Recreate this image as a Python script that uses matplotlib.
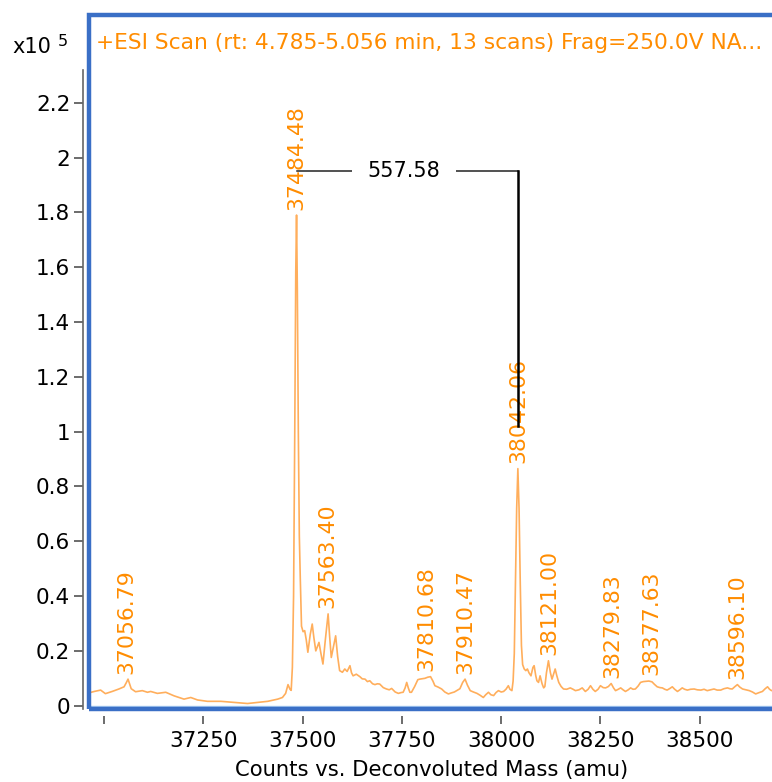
import matplotlib
matplotlib.use("Agg")
import matplotlib.pyplot as plt
from matplotlib.patches import Rectangle
import numpy as np

plt.rcParams['font.family'] = ['DejaVu Sans']

# ---- data (intensity in units of 1e5 counts) ----
mass = [36962, 36975, 36991, 37003, 37020, 37037, 37050, 37056, 37060, 37064,
        37068, 37079, 37096, 37109, 37117, 37134, 37155, 37176, 37201, 37218,
        37235, 37260, 37294, 37328, 37361, 37386, 37412, 37437, 37449, 37457,
        37463, 37468, 37471, 37474, 37477, 37480, 37482.5, 37484.5, 37486.5, 37489,
        37491.5, 37494, 37497, 37501, 37505, 37509, 37513, 37519, 37524, 37528,
        37533, 37537, 37541, 37546, 37551, 37557, 37564, 37568, 37572, 37578,
        37583, 37588, 37593, 37600, 37606, 37612, 37619, 37623, 37627, 37635,
        37644, 37650, 37657, 37663, 37669, 37676, 37682, 37688, 37694, 37703,
        37711, 37718, 37724, 37733, 37741, 37748, 37753, 37758, 37762, 37766,
        37770, 37774, 37782, 37790, 37795, 37808, 37815, 37822, 37828, 37833,
        37841, 37850, 37858, 37867, 37875, 37882, 37888, 37896, 37903, 37909,
        37915, 37922, 37930, 37939, 37947, 37955, 37961, 37968, 37974, 37981,
        37987, 37993, 38000, 38006, 38012, 38018, 38022, 38027, 38030, 38033,
        38036, 38039, 38042, 38045, 38048, 38051, 38054, 38058, 38062, 38066,
        38070, 38075, 38080, 38083, 38087, 38090, 38094, 38098, 38103, 38107,
        38110, 38114, 38119, 38124, 38128, 38132, 38136, 38140, 38145, 38151,
        38157, 38165, 38174, 38181, 38187, 38196, 38204, 38212, 38219, 38225,
        38231, 38237, 38244, 38250, 38257, 38263, 38270, 38277, 38283, 38288,
        38295, 38301, 38307, 38313, 38320, 38326, 38332, 38338, 38345, 38351,
        38358, 38364, 38372, 38380, 38386, 38393, 38400, 38406, 38412, 38418,
        38425, 38431, 38437, 38444, 38450, 38456, 38462, 38469, 38477, 38486,
        38494, 38503, 38511, 38519, 38527, 38536, 38544, 38553, 38561, 38570,
        38576, 38582, 38589, 38595, 38601, 38608, 38616, 38625, 38633, 38641,
        38650, 38658, 38665, 38671, 38676, 38681, 38690, 38700, 38715, 38728]

intensity = [0.047, 0.052, 0.057, 0.044, 0.052, 0.061, 0.069, 0.085, 0.097, 0.080,
             0.062, 0.051, 0.055, 0.049, 0.052, 0.045, 0.049, 0.036, 0.024, 0.030,
             0.021, 0.016, 0.016, 0.012, 0.008, 0.012, 0.016, 0.024, 0.030, 0.045,
             0.077, 0.060, 0.056, 0.14, 0.40, 1.00, 1.58, 1.79, 1.52, 1.00,
             0.62, 0.46, 0.29, 0.27, 0.274, 0.24, 0.195, 0.26, 0.298, 0.25,
             0.20, 0.215, 0.231, 0.19, 0.152, 0.24, 0.335, 0.25, 0.176, 0.22,
             0.255, 0.18, 0.128, 0.122, 0.134, 0.125, 0.146, 0.12, 0.109, 0.115,
             0.106, 0.098, 0.097, 0.088, 0.091, 0.080, 0.077, 0.080, 0.079, 0.066,
             0.061, 0.058, 0.063, 0.050, 0.045, 0.048, 0.049, 0.065, 0.085, 0.065,
             0.049, 0.049, 0.070, 0.095, 0.097, 0.100, 0.104, 0.106, 0.090, 0.073,
             0.068, 0.061, 0.050, 0.043, 0.047, 0.050, 0.055, 0.062, 0.085, 0.097,
             0.075, 0.055, 0.050, 0.045, 0.038, 0.030, 0.040, 0.049, 0.040, 0.037,
             0.048, 0.055, 0.050, 0.052, 0.060, 0.073, 0.060, 0.055, 0.090, 0.19,
             0.45, 0.72, 0.865, 0.72, 0.45, 0.22, 0.15, 0.134, 0.128, 0.134,
             0.120, 0.109, 0.140, 0.146, 0.110, 0.091, 0.085, 0.109, 0.080, 0.065,
             0.070, 0.120, 0.164, 0.120, 0.097, 0.115, 0.134, 0.110, 0.085, 0.070,
             0.061, 0.060, 0.065, 0.060, 0.055, 0.058, 0.065, 0.052, 0.060, 0.073,
             0.060, 0.052, 0.060, 0.073, 0.066, 0.065, 0.070, 0.081, 0.065, 0.055,
             0.060, 0.065, 0.058, 0.052, 0.058, 0.065, 0.060, 0.061, 0.072, 0.085,
             0.088, 0.089, 0.090, 0.087, 0.078, 0.069, 0.066, 0.065, 0.060, 0.057,
             0.063, 0.069, 0.060, 0.052, 0.058, 0.065, 0.060, 0.057, 0.060, 0.061,
             0.058, 0.057, 0.060, 0.055, 0.058, 0.061, 0.057, 0.057, 0.062, 0.065,
             0.062, 0.061, 0.070, 0.077, 0.068, 0.061, 0.058, 0.055, 0.050, 0.043,
             0.048, 0.052, 0.062, 0.069, 0.060, 0.055, 0.058, 0.060, 0.058, 0.060]

peak_masses = [37056.79, 37484.48, 37563.40, 37810.68, 37910.47,
               38042.06, 38121.00, 38279.83, 38377.63, 38596.10]
peak_heights = [0.097, 1.79, 0.335, 0.106, 0.097,
                0.865, 0.164, 0.081, 0.09, 0.077]

delta_pair = (37484.48, 38042.06)
delta_level = 1.95
delta_bottom = 1.02

x_ticks = [37000, 37250, 37500, 37750, 38000, 38250, 38500]
x_ticklabels = ['', '37250', '37500', '37750', '38000', '38250', '38500']
y_ticks = [0, 0.2, 0.4, 0.6, 0.8, 1.0, 1.2, 1.4, 1.6, 1.8, 2.0, 2.2]
y_ticklabels = ['0', '0.2', '0.4', '0.6', '0.8', '1', '1.2', '1.4', '1.6', '1.8', '2', '2.2']

title = "+ESI Scan (rt: 4.785-5.056 min, 13 scans) Frag=250.0V NA..."
xlabel = "Counts vs. Deconvoluted Mass (amu)"

# ---- figure ----
W, H = 772, 782
fig = plt.figure(figsize=(W / 100, H / 100), dpi=100)
left_px, right_px, top_px, bot_px = 89, 790, 15, 709
ax = fig.add_axes([left_px / W, 1 - bot_px / H, (right_px - left_px) / W, (bot_px - top_px) / H])

ORANGE_LINE = '#ff9a33'
ORANGE_TEXT = '#ff8c00'
BLUE = '#3a6fc6'

ax.set_xlim(36961.7, 38727.5)
ax.set_ylim(-0.012, 2.520)

ax.axhline(0, color='#aaccf2', lw=1.0, zorder=1)
ax.plot(mass, intensity, color=ORANGE_LINE, lw=1.2, alpha=0.8, zorder=3,
        solid_joinstyle='round')

for m, h in zip(peak_masses, peak_heights):
    ax.annotate(f"{m:.2f}", xy=(m, h), xytext=(0, 4), textcoords='offset points',
                rotation=90, ha='center', va='bottom', color=ORANGE_TEXT,
                fontsize=15.8, zorder=4)

# mass difference annotation
m1, m2 = delta_pair
ax.plot([m1, m2], [delta_level, delta_level], color='#222222', lw=1.1, zorder=5)
ax.plot([m2, m2], [delta_level, delta_bottom], color='black', lw=1.8, zorder=6)
ax.text((m1 + m2) / 2 - 8, delta_level, f"{m2 - m1:.2f}", ha='center', va='center',
        fontsize=15, color='black', zorder=7,
        bbox=dict(facecolor='white', edgecolor='none', boxstyle='square,pad=0.75'))

fig.text(96 / W, 1 - 49 / H, title, color=ORANGE_TEXT, fontsize=15.7, ha='left', va='baseline')

# frame
ax.add_patch(Rectangle((0, 0), 1, 1, transform=ax.transAxes, fill=False,
                       edgecolor=BLUE, lw=3.2, clip_on=False, zorder=10))

for s in ['top', 'right']:
    ax.spines[s].set_visible(False)
ax.spines['bottom'].set_position(('outward', 5))
ax.spines['bottom'].set_visible(False)
ax.spines['left'].set_position(('outward', 4))
ax.spines['left'].set_color('#666666')
ax.spines['left'].set_linewidth(1.2)
ax.spines['left'].set_bounds(-0.012, 2.32)

ax.set_xticks(x_ticks)
ax.set_xticklabels(x_ticklabels)
ax.set_yticks(y_ticks)
ax.set_yticklabels(y_ticklabels)
ax.tick_params(axis='x', direction='out', length=6, width=1.1, color='#444444',
               labelsize=15.5, pad=5)
ax.tick_params(axis='y', direction='out', length=6.5, width=1.1, color='#444444',
               labelsize=15.5, pad=3)

fig.text(431.5 / W, 1 - 776 / H, xlabel, fontsize=15.2, ha='center', va='baseline')
fig.text(12 / W, 1 - 53 / H, 'x10', fontsize=15, ha='left', va='baseline')
fig.text(58 / W, 1 - 46 / H, '5', fontsize=11.5, ha='left', va='baseline')

fig.savefig('out.png', dpi=100)
